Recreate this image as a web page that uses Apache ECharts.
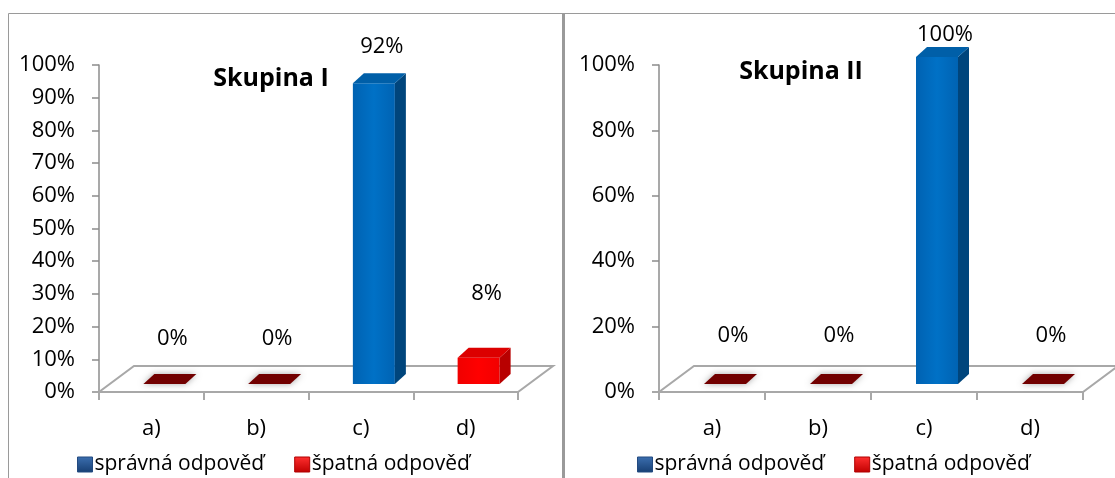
<!DOCTYPE html>
<html>
<head>
<meta charset="utf-8">
<script src="https://cdn.jsdelivr.net/npm/echarts@6/dist/echarts.min.js"></script>
<style>
html,body{margin:0;padding:0;background:#fff;}
#chart{width:1115px;height:478px;}
</style>
</head>
<body>
<div id="chart"></div>
<script>
// ---- data ----
const categories = ['a)', 'b)', 'c)', 'd)'];
const seriesNames = ['správná odpověď', 'špatná odpověď'];
const titles = ['Skupina I', 'Skupina II'];
const correct1 = [null, null, 92, null];
const wrong1 = [0, 0, null, 8];
const correct2 = [null, null, 100, null];
const wrong2 = [0, 0, null, 0];
const yInterval1 = 10;
const yInterval2 = 20;
// label lift (style: vertical distance of value label above the projected value)
const labelLift1 = [53, 53, 44, 72];
const labelLift2 = [56, 56, 30, 56];

const FONT = 'Open Sans';
const FS = 22;
const BAR_W = 42, BAR_OX = 13, BAR_OY = -8, DEP_X = 11, DEP_Y = -10;
const FLOOR_DX = 35, FLOOR_DY = -26;

const palette = {
  blue: {
    front: new echarts.graphic.LinearGradient(0, 0, 1, 0, [
      {offset: 0, color: '#0062b2'}, {offset: 0.5, color: '#0071c6'}, {offset: 1, color: '#0063b3'}]),
    side: '#00457c', top: '#005fa8', zero: '#005fa8'
  },
  red: {
    front: new echarts.graphic.LinearGradient(0, 0, 1, 0, [
      {offset: 0, color: '#f00000'}, {offset: 0.5, color: '#ff0000'}, {offset: 1, color: '#f20000'}]),
    side: '#b80000', top: '#dc0000', zero: '#720000'
  }
};

function toPairs(arr) {
  const out = [];
  arr.forEach((v, i) => { if (v !== null) out.push([i, v]); });
  return out;
}

function makeBarRender(col, lifts) {
  return function (params, api) {
    const cat = api.value(0), v = api.value(1);
    const base = api.coord([cat, 0]);
    const top = api.coord([cat, v]);
    const x0 = base[0] + BAR_OX - BAR_W / 2, x1 = x0 + BAR_W;
    const yb = base[1] + BAR_OY, yt = top[1] + BAR_OY;
    const children = [];
    if (v > 0) {
      children.push({type: 'rect', shape: {x: x0, y: yt, width: BAR_W, height: yb - yt}, style: {fill: col.front}});
      children.push({type: 'polygon', shape: {points: [[x1, yb], [x1 + DEP_X, yb + DEP_Y], [x1 + DEP_X, yt + DEP_Y], [x1, yt]]}, style: {fill: col.side}});
      children.push({type: 'polygon', shape: {points: [[x0, yt], [x1, yt], [x1 + DEP_X, yt + DEP_Y], [x0 + DEP_X, yt + DEP_Y]]}, style: {fill: col.top}});
    } else {
      children.push({type: 'polygon', shape: {points: [[x0, yb], [x1, yb], [x1 + DEP_X, yb + DEP_Y], [x0 + DEP_X, yb + DEP_Y]]},
        style: {fill: col.zero, shadowBlur: 6, shadowColor: 'rgba(0,0,0,0.35)'}});
    }
    children.push({type: 'text', x: base[0] + 21, y: top[1] - lifts[cat],
      style: {text: v + '%', font: FS + 'px "' + FONT + '"', fill: '#000', align: 'center', verticalAlign: 'middle'}});
    return {type: 'group', children: children};
  };
}

function floorRender(params, api) {
  const cs = params.coordSys;
  const x = cs.x, y = cs.y + cs.height, w = cs.width;
  return {
    type: 'polygon',
    shape: {points: [[x, y], [x + w, y], [x + w + FLOOR_DX, y + FLOOR_DY], [x + FLOOR_DX, y + FLOOR_DY]]},
    style: {fill: '#fff', stroke: '#a8a8a8', lineWidth: 2}
  };
}

const grids = [
  {left: 99, width: 419, top: 65, height: 327},
  {left: 659, width: 424, top: 65, height: 327}
];

function xAxisFor(i) {
  return {
    type: 'category', gridIndex: i, data: categories, boundaryGap: true,
    axisLine: {show: true, lineStyle: {color: '#8c8c8c', width: 1.5}},
    axisTick: {show: true, length: 8, lineStyle: {color: '#8c8c8c', width: 1.5}},
    axisLabel: {margin: 26, fontFamily: FONT, fontSize: FS, color: '#000'},
    splitLine: {show: false}
  };
}
function yAxisFor(i, interval) {
  return {
    type: 'value', gridIndex: i, min: 0, max: 100, interval: interval,
    axisLine: {show: true, lineStyle: {color: '#8c8c8c', width: 1.5}},
    axisTick: {show: true, length: 7, lineStyle: {color: '#8c8c8c', width: 1.5}},
    axisLabel: {margin: 24, fontFamily: FONT, fontSize: FS, color: '#000', formatter: '{value}%'},
    splitLine: {show: false}
  };
}

const legendData = [
  {name: seriesNames[0], itemStyle: {color: new echarts.graphic.LinearGradient(0, 0, 0, 1, [
    {offset: 0, color: '#3c6fb0'}, {offset: 1, color: '#173f73'}]), borderColor: '#234a80', borderWidth: 1}},
  {name: seriesNames[1], itemStyle: {color: new echarts.graphic.LinearGradient(0, 0, 0, 1, [
    {offset: 0, color: '#ff3030'}, {offset: 1, color: '#c00000'}]), borderColor: '#b00000', borderWidth: 1}}
];

function barSeries(name, arr, gi, col, lifts) {
  return {
    type: 'custom', name: name, xAxisIndex: gi, yAxisIndex: gi, clip: false, z: 5,
    itemStyle: {color: col === palette.blue ? '#1f4e8c' : '#e00000'},
    renderItem: makeBarRender(col, lifts), data: toPairs(arr)
  };
}

const legendText = {fontFamily: FONT, fontSize: 21, color: '#000', padding: [0, 0, 0, -3]};
const option = {
  backgroundColor: '#fff',
  animation: false,
  title: [
    {text: titles[0], left: 266, top: 61, textAlign: 'center', textStyle: {fontFamily: FONT, fontSize: 25, fontWeight: 'bold', color: '#000'}},
    {text: titles[1], left: 796, top: 54, textAlign: 'center', textStyle: {fontFamily: FONT, fontSize: 25, fontWeight: 'bold', color: '#000'}}
  ],
  legend: [
    {left: 77, top: 454, padding: 0, itemWidth: 15, itemHeight: 15, itemGap: 30, icon: 'rect', data: legendData, textStyle: legendText},
    {left: 637, top: 454, padding: 0, itemWidth: 15, itemHeight: 15, itemGap: 30, icon: 'rect', data: legendData, textStyle: legendText}
  ],
  grid: grids,
  xAxis: [xAxisFor(0), xAxisFor(1)],
  yAxis: [yAxisFor(0, yInterval1), yAxisFor(1, yInterval2)],
  graphic: [
    {type: 'rect', shape: {x: 8.5, y: 13.5, width: 555, height: 520}, style: {fill: 'none', stroke: '#9a9a9a', lineWidth: 1}, silent: true},
    {type: 'rect', shape: {x: 564, y: 13.5, width: 600, height: 520}, style: {fill: 'none', stroke: '#9a9a9a', lineWidth: 1}, silent: true},
    {type: 'line', shape: {x1: 563.5, y1: 13, x2: 563.5, y2: 478}, style: {stroke: '#9a9a9a', lineWidth: 3}, silent: true}
  ],
  series: [
    {type: 'custom', xAxisIndex: 0, yAxisIndex: 0, clip: false, z: 1, silent: true, renderItem: floorRender, data: [[0, 0]]},
    {type: 'custom', xAxisIndex: 1, yAxisIndex: 1, clip: false, z: 1, silent: true, renderItem: floorRender, data: [[0, 0]]},
    barSeries(seriesNames[0], correct1, 0, palette.blue, labelLift1),
    barSeries(seriesNames[1], wrong1, 0, palette.red, labelLift1),
    barSeries(seriesNames[0], correct2, 1, palette.blue, labelLift2),
    barSeries(seriesNames[1], wrong2, 1, palette.red, labelLift2)
  ]
};

const chart = echarts.init(document.getElementById('chart'), null, {renderer: 'canvas'});
chart.setOption(option);
</script>
</body>
</html>
